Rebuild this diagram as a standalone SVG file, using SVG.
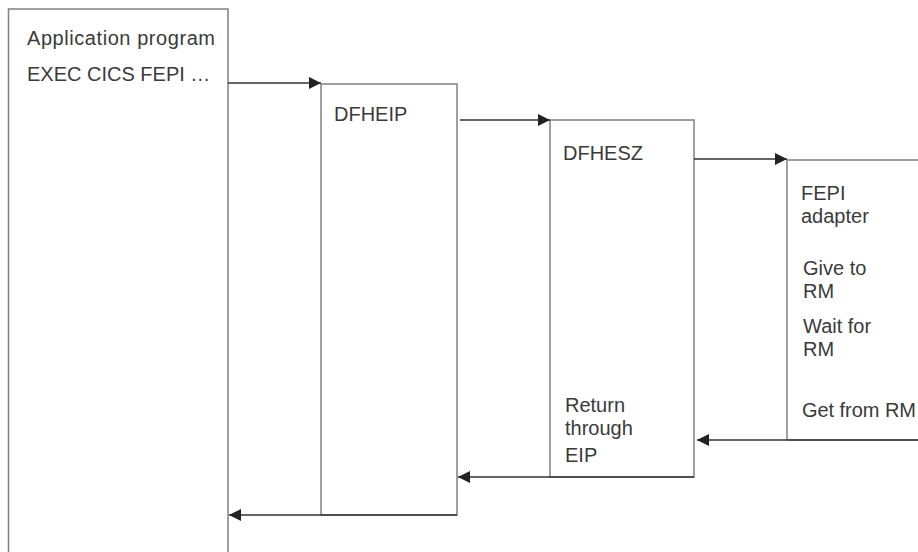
<svg xmlns="http://www.w3.org/2000/svg" width="918" height="552" viewBox="0 0 918 552">
<style>
.box{fill:#fff;stroke:#808080;stroke-width:1.5}
.lbl{font-family:"Liberation Sans",Arial,sans-serif;font-size:20px;fill:#3a3a3a}
.conn{stroke:#333;stroke-width:1.3;fill:none}
</style>
<defs>
<marker id="ah" viewBox="0 0 12 12" refX="12" refY="6" markerWidth="12" markerHeight="12" markerUnits="userSpaceOnUse" orient="auto">
<path d="M0,0 L12,6 L0,12 Z" fill="#222"/>
</marker>
</defs>
<g id="app">
<rect class="box" x="8.5" y="9" width="219.5" height="560"/>
<text class="lbl" x="27" y="45" textLength="188">Application program</text>
<text class="lbl" x="27" y="81">EXEC CICS FEPI …</text>
</g>
<g id="dfheip">
<rect class="box" x="321" y="84" width="136" height="431"/>
<text class="lbl" x="334" y="121">DFHEIP</text>
</g>
<g id="dfhesz">
<rect class="box" x="550" y="120" width="144" height="357"/>
<text class="lbl" x="563" y="160">DFHESZ</text>
<text class="lbl" x="565" y="412">Return</text>
<text class="lbl" x="565" y="435">through</text>
<text class="lbl" x="565" y="462">EIP</text>
</g>
<g id="fepi">
<rect class="box" x="787" y="160" width="200" height="280"/>
<text class="lbl" x="801" y="200">FEPI</text>
<text class="lbl" x="801" y="223">adapter</text>
<text class="lbl" x="803" y="275">Give to</text>
<text class="lbl" x="803" y="298">RM</text>
<text class="lbl" x="803" y="333">Wait for</text>
<text class="lbl" x="803" y="356">RM</text>
<text class="lbl" x="802" y="417" textLength="114">Get from RM</text>
</g>
<g id="connectors">
<line class="conn" x1="228" y1="83" x2="321" y2="83" marker-end="url(#ah)"/>
<line class="conn" x1="460" y1="120" x2="550" y2="120" marker-end="url(#ah)"/>
<line class="conn" x1="694" y1="159" x2="787" y2="159" marker-end="url(#ah)"/>
<line class="conn" x1="918" y1="440" x2="697" y2="440" marker-end="url(#ah)"/>
<line class="conn" x1="694" y1="477" x2="458" y2="477" marker-end="url(#ah)"/>
<line class="conn" x1="457" y1="515" x2="229" y2="515" marker-end="url(#ah)"/>
</g>
</svg>
